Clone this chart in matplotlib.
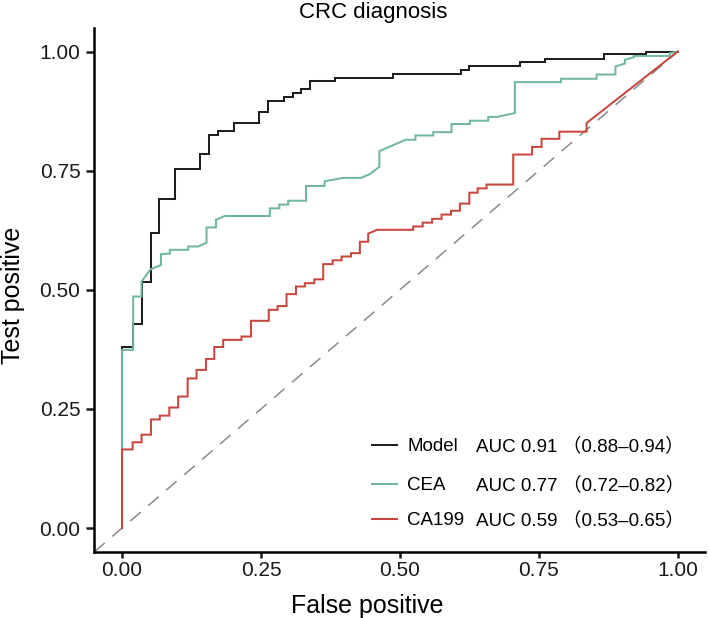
import matplotlib
matplotlib.use("Agg")
import matplotlib.pyplot as plt

plt.rcParams["font.family"] = ["Liberation Sans", "Noto Sans CJK SC", "DejaVu Sans"]

# ROC-Koordinaten (False positive / Test positive)
model_fpr = [0, 0, 0.020, 0.020, 0.035, 0.035, 0.052, 0.052, 0.067, 0.067, 0.095, 0.095,
             0.140, 0.140, 0.157, 0.157, 0.172, 0.172, 0.202, 0.202, 0.247, 0.247, 0.262, 0.262,
             0.292, 0.292, 0.307, 0.307, 0.322, 0.322, 0.338, 0.338, 0.383, 0.383, 0.488, 0.488,
             0.610, 0.610, 0.625, 0.625, 0.716, 0.716, 0.761, 0.761, 0.868, 0.868, 0.943, 0.943, 1.0]
model_tpr = [0, 0.381, 0.381, 0.428, 0.428, 0.516, 0.516, 0.619, 0.619, 0.690, 0.690, 0.754,
             0.754, 0.786, 0.786, 0.826, 0.826, 0.834, 0.834, 0.850, 0.850, 0.873, 0.873, 0.897,
             0.897, 0.905, 0.905, 0.913, 0.913, 0.922, 0.922, 0.938, 0.938, 0.945, 0.945, 0.954,
             0.954, 0.961, 0.961, 0.969, 0.969, 0.978, 0.978, 0.985, 0.985, 0.994, 0.994, 1.0, 1.0]

cea_fpr = [0, 0, 0.020, 0.020, 0.035, 0.035, 0.051, 0.070, 0.070, 0.086, 0.086, 0.119, 0.119,
           0.137, 0.152, 0.152, 0.169, 0.169, 0.185, 0.266, 0.266, 0.283, 0.283, 0.299, 0.299,
           0.331, 0.331, 0.364, 0.365, 0.398, 0.430, 0.446, 0.463, 0.463, 0.510, 0.528, 0.528,
           0.560, 0.560, 0.593, 0.593, 0.626, 0.626, 0.659, 0.659, 0.675, 0.707, 0.707, 0.790,
           0.790, 0.854, 0.854, 0.888, 0.888, 0.905, 0.905, 0.921, 0.921, 0.986, 0.986, 1.0]
cea_tpr = [0, 0.374, 0.374, 0.486, 0.486, 0.517, 0.543, 0.552, 0.575, 0.576, 0.584, 0.584, 0.591,
           0.591, 0.599, 0.631, 0.631, 0.647, 0.655, 0.655, 0.671, 0.671, 0.679, 0.679, 0.687,
           0.687, 0.718, 0.718, 0.728, 0.735, 0.735, 0.743, 0.758, 0.791, 0.815, 0.815, 0.824,
           0.824, 0.831, 0.831, 0.848, 0.848, 0.855, 0.855, 0.863, 0.863, 0.871, 0.936, 0.936,
           0.943, 0.943, 0.952, 0.952, 0.969, 0.975, 0.983, 0.988, 0.991, 0.991, 0.997, 1.0]

ca199_fpr = [0, 0, 0.019, 0.019, 0.035, 0.035, 0.052, 0.052, 0.068, 0.068, 0.085, 0.085, 0.101,
             0.101, 0.118, 0.118, 0.134, 0.134, 0.151, 0.151, 0.166, 0.166, 0.182, 0.182, 0.215,
             0.215, 0.232, 0.232, 0.264, 0.264, 0.280, 0.280, 0.296, 0.296, 0.313, 0.313, 0.329,
             0.329, 0.346, 0.346, 0.362, 0.362, 0.379, 0.379, 0.395, 0.395, 0.412, 0.412, 0.428,
             0.428, 0.443, 0.443, 0.459, 0.524, 0.524, 0.541, 0.541, 0.558, 0.558, 0.575, 0.575,
             0.592, 0.592, 0.608, 0.608, 0.625, 0.625, 0.640, 0.640, 0.656, 0.656, 0.704, 0.704,
             0.738, 0.738, 0.755, 0.755, 0.787, 0.787, 0.836, 0.836, 1.0]
ca199_tpr = [0, 0.165, 0.165, 0.180, 0.180, 0.196, 0.196, 0.228, 0.228, 0.236, 0.236, 0.253, 0.253,
             0.276, 0.276, 0.314, 0.314, 0.332, 0.332, 0.355, 0.355, 0.380, 0.380, 0.395, 0.395,
             0.402, 0.402, 0.435, 0.435, 0.458, 0.458, 0.466, 0.466, 0.491, 0.491, 0.507, 0.507,
             0.514, 0.514, 0.522, 0.522, 0.554, 0.554, 0.562, 0.562, 0.570, 0.570, 0.577, 0.577,
             0.601, 0.601, 0.618, 0.626, 0.626, 0.633, 0.633, 0.641, 0.641, 0.649, 0.649, 0.658,
             0.658, 0.666, 0.666, 0.681, 0.681, 0.704, 0.704, 0.713, 0.713, 0.721, 0.721, 0.784,
             0.784, 0.800, 0.800, 0.817, 0.817, 0.832, 0.832, 0.850, 1.0]

diag = [-0.05, 1.0]

names = ["Model", "CEA", "CA199"]
auc_labels = ["AUC 0.91 （0.88–0.94）", "AUC 0.77 （0.72–0.82）", "AUC 0.59 （0.53–0.65）"]
colors = ["#1e1e1e", "#70b899", "#c9463d"]
ticks = [0, 0.25, 0.5, 0.75, 1.0]
tick_labels = ["0.00", "0.25", "0.50", "0.75", "1.00"]

fig = plt.figure(figsize=(7.09, 6.18), dpi=100)
ax = fig.add_axes([0.133, 0.107, 0.862, 0.848])

ax.plot(diag, diag, color="#8a8a8a", lw=1.1, linestyle=(0, (9, 6.5)))
curves = [(model_fpr, model_tpr), (cea_fpr, cea_tpr), (ca199_fpr, ca199_tpr)]
for (fpr, tpr), c in zip(curves, colors):
    ax.plot(fpr, tpr, color=c, lw=1.45, solid_joinstyle="miter")

ax.set_xlim(-0.05, 1.05)
ax.set_ylim(-0.05, 1.05)
ax.set_xticks(ticks, tick_labels)
ax.set_yticks(ticks, tick_labels)
for s in ["top", "right"]:
    ax.spines[s].set_visible(False)
for s in ["left", "bottom"]:
    ax.spines[s].set_linewidth(1.8)
ax.tick_params(axis="x", length=4.5, width=1.8, labelsize=15, pad=2, colors="#1a1a1a")
ax.tick_params(axis="y", length=6, width=1.8, labelsize=15, pad=4, colors="#1a1a1a")

ax.set_xlabel("False positive", fontsize=18, va="center")
ax.xaxis.set_label_coords(0.446, -0.104)
ax.set_ylabel("Test positive", fontsize=18, va="center")
ax.yaxis.set_label_coords(-0.133, 0.4885)
fig.text(0.527, 0.979, "CRC diagnosis", fontsize=16, ha="center", va="center")

# Legende von Hand, damit die AUC-Spalte bündig ist
legend_y = [0.2036, 0.1292, 0.0624]
for name, auc, c, y in zip(names, auc_labels, colors, legend_y):
    ax.plot([0.454, 0.495], [y, y], color=c, lw=1.45, transform=ax.transAxes, clip_on=False)
    ax.text(0.512, y - 0.0118, name, transform=ax.transAxes, fontsize=13.5, va="baseline")
    ax.text(0.624, y - 0.0118, auc, transform=ax.transAxes, fontsize=13.5, va="baseline")

fig.savefig("out.png", dpi=100)
